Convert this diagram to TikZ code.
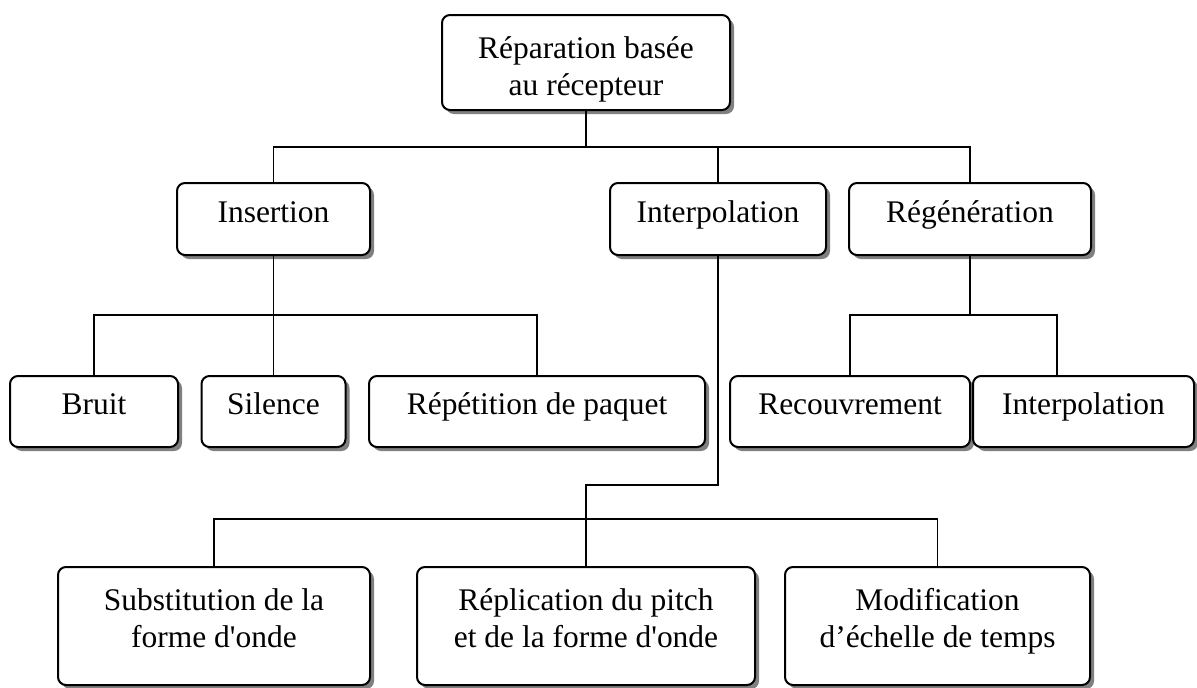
\documentclass[tikz,border=0pt]{standalone}
\usepackage{fontspec}
\setmainfont{Liberation Serif}[Ligatures=TeXOff]
\usetikzlibrary{shadows}
\begin{document}
\begin{tikzpicture}[x=0.75pt,y=-0.75pt,
  box/.style={draw, line width=1.5pt, rounded corners=6pt, fill=white, inner sep=0pt,
    font=\fontsize{23.6pt}{27.75pt}\selectfont, text height=0.7em, text depth=0.22em,
    drop shadow={shadow xshift=3pt, shadow yshift=-3pt, fill=black!50, opacity=1}},
  txt/.style={font=\fontsize{23.6pt}{27.75pt}\selectfont, align=center, inner sep=0pt, anchor=north},
  link/.style={line width=1.3pt}]
\useasboundingbox (0,0) rectangle (1197,687);

% root
\node[box, minimum width=216pt, minimum height=71.25pt] (root) at (586,62.5) {};
\node[txt] (rootT) at (586,36.3) {Réparation basée\\au récepteur};

% second level
\node[box, minimum width=144.75pt, minimum height=54pt] (ins) at (273.5,219) {Insertion};
\node[box, minimum width=162pt, minimum height=54pt] (interp) at (718,219) {Interpolation};
\node[box, minimum width=181.5pt, minimum height=54pt] (regen) at (970,219) {Régénération};

% children of Insertion
\node[box, minimum width=126pt, minimum height=53.25pt] (bruit) at (94,411.5) {Bruit};
\node[box, minimum width=108pt, minimum height=53.25pt] (sil) at (273.5,411.5) {Silence};
\node[box, minimum width=252pt, minimum height=53.25pt] (rep) at (537,411.5) {Répétition de paquet};

% children of Régénération
\node[box, minimum width=180pt, minimum height=53.25pt] (rec) at (850,411.5) {Recouvrement};
\node[box, minimum width=165.75pt, minimum height=53.25pt] (interB) at (1083.5,411.5) {Interpolation};

% children of Interpolation
\node[box, minimum width=234pt, minimum height=88.5pt] (subst) at (214,626) {};
\node[txt] (substT) at (214,588.3) {Substitution de la\\forme d'onde};
\node[box, minimum width=253.5pt, minimum height=88.5pt] (repl) at (586,626) {};
\node[txt] (replT) at (586,588.3) {Réplication du pitch\\et de la forme d'onde};
\node[box, minimum width=228.75pt, minimum height=88.5pt] (modif) at (937.5,626) {};
\node[txt] (modifT) at (937.5,588.3) {Modification\\d’échelle de temps};

% junction points of the connector buses
\coordinate (busA) at (586,147);
\coordinate (busB) at (273.5,315);
\coordinate (busC) at (970,315);
\coordinate (jB) at (1057,315);
\coordinate (bend) at (586,485);
\coordinate (busD) at (586,519);

% root to second level
\draw[link] (root.south) -- (busA);
\draw[link] (ins.north) -- (ins.north |- busA) -- (regen.north |- busA) -- (regen.north);
\draw[link] (interp.north) -- (interp.north |- busA);

% Insertion to its children
\draw[link] (ins.south) -- (busB);
\draw[link] (bruit.north) -- (bruit.north |- busB) -- (rep.north |- busB) -- (rep.north);
\draw[link] (sil.north) -- (busB);

% Régénération to its children
\draw[link] (regen.south) -- (busC);
\draw[link] (rec.north) -- (rec.north |- busC) -- (jB) -- (jB |- interB.north);

% Interpolation to its children
\draw[link] (interp.south) |- (bend) -- (repl.north);
\draw[link] (subst.north) -- (subst.north |- busD) -- (modif.north |- busD) -- (modif.north);
\end{tikzpicture}
\end{document}
